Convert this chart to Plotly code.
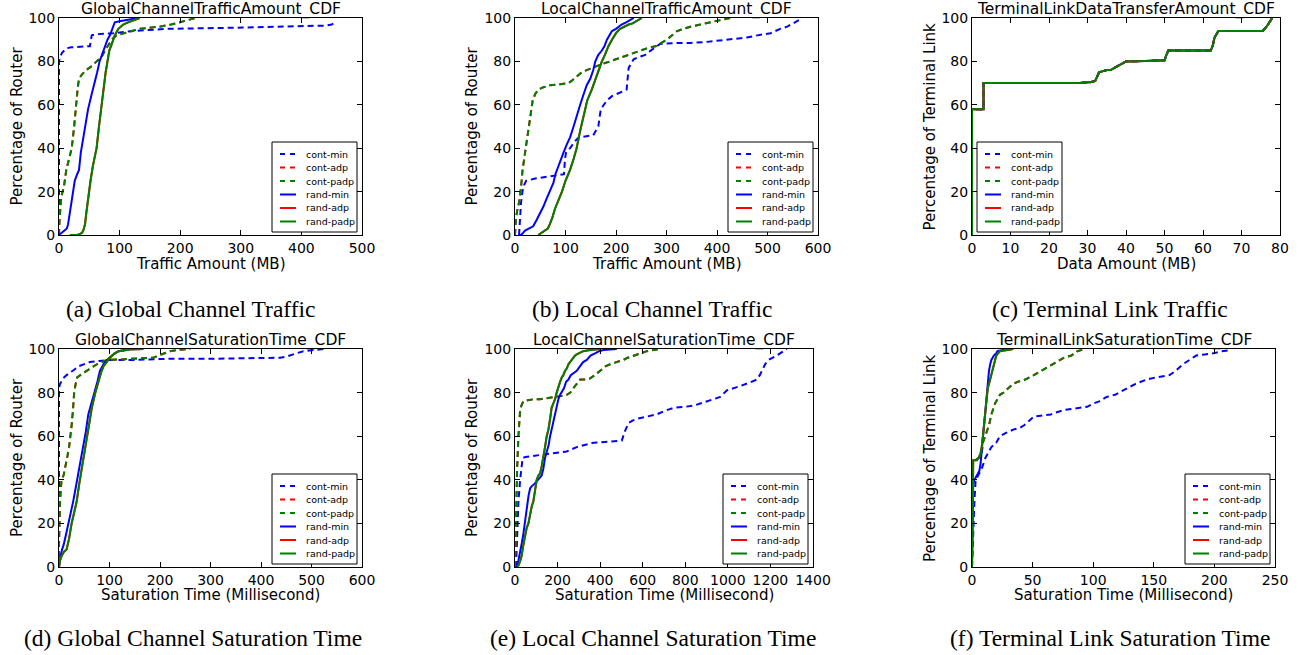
import plotly.graph_objects as go

W, H = 1300, 655

# ---------------- data ----------------
series_names = ["cont-min", "cont-adp", "cont-padp", "rand-min", "rand-adp", "rand-padp"]

# (a) Global channel traffic amount
a_cont_min_x = [0, 0, 2, 5, 12, 20, 51, 54, 60, 89, 122, 177, 287, 396, 440, 450, 457]
a_cont_min_y = [0, 80, 82, 84, 86, 86.5, 87, 92, 92.5, 93, 94, 95, 95.5, 96, 96.5, 97, 98]
a_cont_padp_x = [0, 1, 4, 8, 12, 17, 21, 25, 28, 31, 33, 38, 45, 55, 62, 70, 76, 82, 87, 95, 106, 120, 133, 150, 166, 185, 199, 215, 226]
a_cont_padp_y = [0, 8, 18, 22, 30, 35, 40, 50, 60, 68, 72, 74, 76, 78, 80, 82, 85, 88, 90, 92, 93, 94, 95, 95.5, 96, 97, 98, 99, 100]
a_rand_min_x = [0, 5, 10, 13, 15, 18, 20, 23, 26, 30, 33, 36, 40, 43, 48, 54, 59, 63, 67, 72, 76, 80, 84, 88, 92, 100, 111, 120, 130]
a_rand_min_y = [0, 1, 2, 3, 5, 10, 15, 20, 25, 28, 30, 38, 45, 50, 58, 65, 70, 75, 80, 84, 87, 90, 92, 95, 98, 98.5, 99, 99.5, 100]
a_rand_padp_x = [18, 30, 35, 38, 40, 43, 45, 48, 52, 56, 62, 66, 70, 74, 77, 80, 83, 87, 92, 98, 106, 114, 122, 133]
a_rand_padp_y = [0, 0, 0.5, 1, 2, 5, 10, 17, 25, 32, 40, 50, 60, 68, 75, 80, 85, 88, 92, 95, 97, 98, 99, 100]
a_cont_adp_x, a_cont_adp_y = a_cont_padp_x, a_cont_padp_y
a_rand_adp_x, a_rand_adp_y = a_rand_padp_x, a_rand_padp_y

# (b) Local channel traffic amount
b_cont_min_x = [8, 9, 12, 16, 22, 40, 69, 97, 99, 101, 109, 118, 126, 140, 155, 160, 165, 168, 170, 176, 182, 192, 202, 212, 221, 223, 225, 230, 235, 245, 258, 266, 274, 280, 287, 320, 347, 380, 426, 459, 480, 506, 525, 539, 562]
b_cont_min_y = [0, 5, 15, 22, 25, 26, 27, 28, 35, 38, 40, 43, 45, 45.5, 46, 48, 50, 55, 58, 60, 62, 64, 65, 66, 67, 72, 77, 79, 81, 82, 83, 84.5, 86, 87, 88, 88.5, 88.5, 89, 90, 91, 92, 93, 95, 96, 99]
b_cont_padp_x = [0, 2, 5, 8, 12, 15, 20, 24, 28, 32, 35, 40, 46, 55, 69, 90, 106, 112, 122, 132, 142, 152, 162, 175, 188, 200, 221, 240, 261, 278, 290, 301, 311, 321, 334, 347, 367, 387, 405, 426]
b_cont_padp_y = [0, 8, 12, 15, 22, 30, 38, 45, 52, 58, 62, 65, 67, 68, 69, 69.5, 70, 71, 73, 75, 76, 77, 78, 79, 80, 81, 83, 84.5, 86, 87, 88.5, 90, 92, 94, 95, 96, 97, 98, 99, 100]
b_rand_min_x = [8, 12, 16, 20, 28, 36, 43, 50, 56, 63, 70, 76, 80, 83, 90, 96, 103, 109, 116, 122, 129, 136, 142, 149, 155, 159, 165, 172, 177, 182, 187, 192, 200, 211, 220, 228, 235]
b_rand_min_y = [0, 0, 1, 2, 3, 4, 7, 10, 13, 17, 21, 24, 28, 30, 34, 38, 42, 45, 50, 55, 60, 65, 69, 72, 76, 80, 83, 85, 87, 90, 92, 94, 95, 97, 98, 99, 100]
b_rand_padp_x = [46, 52, 59, 65, 69, 74, 79, 86, 93, 100, 109, 116, 122, 129, 136, 143, 152, 158, 165, 172, 178, 185, 192, 200, 208, 216, 225, 233, 241, 246, 251]
b_rand_padp_y = [0, 1, 2, 3, 5, 8, 12, 16, 20, 25, 30, 35, 40, 48, 55, 62, 67, 71, 75, 80, 83, 87, 90, 93, 95, 96, 97, 97.5, 98.5, 99, 100]
b_cont_adp_x, b_cont_adp_y = b_cont_padp_x, b_cont_padp_y
b_rand_adp_x, b_rand_adp_y = b_rand_padp_x, b_rand_padp_y

# (c) Terminal link data transfer amount (all six routings coincide)
c_all_x = [0, 0, 3, 3, 10, 20, 28, 31, 32, 32.5, 33, 35, 36, 37, 38, 40, 45, 50, 50.5, 51, 55, 62, 62.5, 63, 64, 70, 75.5, 76.5, 77.5, 78]
c_all_y = [0, 58, 58, 70, 70, 70, 70, 70.5, 71, 73, 75, 76, 76, 77, 78, 80, 80.2, 80.5, 83, 85, 85, 85, 87, 91, 94, 94, 94, 96, 99, 100]
c_cont_min_x = c_cont_adp_x = c_cont_padp_x = c_all_x
c_rand_min_x = c_rand_adp_x = c_rand_padp_x = c_all_x
c_cont_min_y = c_cont_adp_y = c_cont_padp_y = c_all_y
c_rand_min_y = c_rand_adp_y = c_rand_padp_y = c_all_y

# (d) Global channel saturation time
d_cont_min_x = [0, 0, 2, 5, 10, 15, 22, 30, 38, 50, 61, 80, 101, 150, 213, 300, 412, 438, 450, 458, 470, 484, 500, 524]
d_cont_min_y = [0, 82, 84, 85, 87, 88, 89, 90.5, 92, 93, 94, 94.5, 95, 95, 95.5, 95.5, 96, 96, 96.5, 97, 98, 99, 99.5, 100]
d_cont_padp_x = [0, 0, 2, 5, 9, 12, 16, 20, 23, 25, 28, 30, 33, 36, 45, 55, 65, 75, 85, 95, 120, 147, 170, 187, 197, 207, 220, 233, 260]
d_cont_padp_y = [0, 10, 30, 40, 42, 45, 50, 55, 60, 65, 73, 80, 84, 87, 88.5, 90, 91.5, 93, 94, 95, 95.2, 95.5, 95.7, 96, 97, 98, 99, 99.5, 100]
d_rand_min_x = [0, 1, 3, 6, 9, 14, 19, 24, 28, 32, 36, 42, 48, 53, 58, 64, 71, 76, 81, 88, 95, 105, 118, 130, 141]
d_rand_min_y = [0, 3, 5, 8, 10, 15, 20, 25, 30, 35, 40, 48, 55, 62, 70, 75, 80, 85, 90, 93, 95, 97, 99, 99.5, 100]
d_rand_padp_x = [0, 2, 5, 10, 15, 20, 25, 30, 35, 40, 45, 50, 55, 60, 65, 72, 78, 83, 88, 95, 101, 110, 118, 140, 167]
d_rand_padp_y = [0, 3, 5, 7, 8, 13, 20, 25, 30, 38, 45, 52, 60, 67, 73, 80, 85, 89, 92, 94, 96, 98, 99, 99.8, 100]
d_cont_adp_x, d_cont_adp_y = d_cont_padp_x, d_cont_padp_y
d_rand_adp_x, d_rand_adp_y = d_rand_padp_x, d_rand_padp_y

# (e) Local channel saturation time
e_cont_min_x = [5, 8, 11, 16, 24, 30, 36, 50, 86, 125, 165, 200, 243, 290, 330, 368, 440, 502, 515, 533, 550, 572, 620, 666, 700, 745, 800, 839, 870, 901, 940, 964, 995, 1030, 1058, 1100, 1136, 1150, 1160, 1175, 1191, 1210, 1230, 1277]
e_cont_min_y = [0, 10, 20, 30, 40, 45, 50, 50.5, 51, 51.5, 52, 52.5, 53, 55, 56, 57, 57.5, 58, 62, 66, 67, 68, 69, 70, 71.5, 73, 73.5, 74, 75, 76, 77, 78, 81, 82, 83, 84.5, 86, 88, 90, 93, 95, 96, 97, 100]
e_cont_padp_x = [0, 3, 5, 10, 16, 20, 24, 30, 39, 60, 90, 118, 160, 196, 220, 243, 260, 274, 290, 306, 330, 353, 375, 400, 425, 447, 480, 509, 530, 556, 590, 619, 650, 682]
e_cont_padp_y = [0, 15, 30, 45, 60, 67, 72, 74, 76, 76.5, 77, 77, 77.5, 78, 78.5, 79, 80, 82, 84, 86, 86, 86.5, 88, 90, 92, 93, 94, 95, 96, 97, 98, 99, 99.5, 100]
e_rand_min_x = [5, 10, 16, 25, 32, 39, 46, 52, 58, 64, 71, 78, 90, 100, 110, 117, 125, 133, 141, 150, 158, 165, 172, 180, 188, 196, 204, 212, 219, 230, 240, 251, 262, 275, 290, 305, 320, 337, 355, 376, 395, 415, 450, 478]
e_rand_min_y = [0, 1, 3, 7, 11, 15, 20, 25, 30, 33, 36, 37, 38, 39, 40, 41, 42, 45, 50, 53, 56, 60, 63, 67, 70, 74, 77, 79, 80, 82, 85, 86, 88, 89, 90, 92, 94, 95, 97, 98, 99, 99.5, 99.8, 100]
e_rand_padp_x = [11, 18, 25, 31, 39, 47, 55, 63, 71, 79, 86, 94, 102, 110, 118, 125, 133, 141, 149, 157, 165, 172, 180, 188, 196, 204, 212, 220, 227, 235, 243, 251, 258, 266, 274, 282, 290, 298, 320, 353, 380, 400]
e_rand_padp_y = [0, 1, 3, 5, 10, 15, 18, 20, 25, 28, 30, 35, 40, 42, 43, 46, 50, 55, 60, 63, 68, 73, 75, 77, 80, 83, 85, 87, 88, 90, 91, 93, 94, 95, 96, 97, 97.5, 98, 99, 99.5, 99.8, 100]
e_cont_adp_x, e_cont_adp_y = e_cont_padp_x, e_cont_padp_y
e_rand_adp_x, e_rand_adp_y = e_rand_padp_x, e_rand_padp_y

# (f) Terminal link saturation time
f_cont_min_x = [0, 0.5, 1, 2, 3, 5, 8, 11, 14, 16, 20, 23, 28, 34, 40, 43, 47, 51, 58, 65, 70, 76, 82, 89, 95, 100, 105, 111, 118, 128, 135, 144, 152, 163, 168, 174, 180, 185, 192, 199, 206, 213]
f_cont_min_y = [0, 10, 20, 30, 40, 42, 45, 50, 53, 55, 57, 60, 61.5, 63, 64, 65, 67, 69, 69.5, 70, 71, 72, 72.5, 73, 73.5, 75, 76, 78, 79, 82, 84, 86, 87, 88, 90, 93, 95, 97, 97.5, 98, 99, 99.5]
f_cont_padp_x = [0, 0.5, 2, 4, 5.5, 7, 8, 9, 11, 12, 14, 16, 17, 19, 21, 23, 26, 30, 34, 38, 44, 51, 57, 63, 70, 76, 82, 87, 90, 92]
f_cont_padp_y = [0, 49, 49, 49, 50, 51, 52, 57, 60, 62, 65, 70, 72, 75, 77, 79, 80, 82, 84, 85, 86, 88, 90, 92, 94, 96, 97, 99, 99.5, 100]
f_rand_min_x = [0, 0.5, 1, 2, 4, 6, 7, 7.5, 8, 9, 10, 11, 12, 13, 14, 15, 16, 18, 20, 21, 25, 32]
f_rand_min_y = [0, 20, 38, 40, 42, 44, 47, 50, 55, 60, 65, 70, 77, 85, 90, 93, 95, 97, 98, 99, 99.5, 100]
f_rand_padp_x = [0, 0.5, 1, 3, 5.5, 7, 8, 9, 10, 11, 12, 13, 14.5, 16, 17, 18, 19, 20, 23, 28, 34]
f_rand_padp_y = [0, 30, 49, 49, 50, 52, 55, 60, 65, 70, 77, 82, 85, 88, 90, 92, 95, 97, 99, 99.5, 100]
f_cont_adp_x, f_cont_adp_y = f_cont_padp_x, f_cont_padp_y
f_rand_adp_x, f_rand_adp_y = f_rand_padp_x, f_rand_padp_y

titles = ["GlobalChannelTrafficAmount_CDF", "LocalChannelTrafficAmount_CDF",
          "TerminalLinkDataTransferAmount_CDF", "GlobalChannelSaturationTime_CDF",
          "LocalChannelSaturationTime_CDF", "TerminalLinkSaturationTime_CDF"]
xlabels = ["Traffic Amount (MB)", "Traffic Amount (MB)", "Data Amount (MB)",
           "Saturation Time (Millisecond)", "Saturation Time (Millisecond)",
           "Saturation Time (Millisecond)"]
ylabels = ["Percentage of Router", "Percentage of Router", "Percentage of Terminal Link",
           "Percentage of Router", "Percentage of Router", "Percentage of Terminal Link"]
captions = ["(a) Global Channel Traffic", "(b) Local Channel Traffic", "(c) Terminal Link Traffic",
            "(d) Global Channel Saturation Time", "(e) Local Channel Saturation Time",
            "(f) Terminal Link Saturation Time"]
x_max = [500, 600, 80, 600, 1400, 250]
x_dtick = [100, 100, 10, 100, 200, 50]
y_ticks = [0, 20, 40, 60, 80, 100]

keys = ["cont_min", "cont_adp", "cont_padp", "rand_min", "rand_adp", "rand_padp"]
g = globals()
panel_data = []
for p in "abcdef":
    panel_data.append({s: (g[f"{p}_{s}_x"], g[f"{p}_{s}_y"]) for s in keys})

# ---------------- layout geometry (pixels) ----------------
# plot areas: (left, right, top, bottom)
boxes = [(59, 362, 18, 235), (515, 818, 18, 235), (972, 1280, 18, 235),
         (59, 362, 349, 567), (515, 813, 349, 567), (972, 1275, 349, 567)]
ylabel_x = [17, 472, 930, 17, 472, 930]
xlabel_y = [264, 264, 264, 595, 595, 595]
caption_pos = [(191, 309), (652, 309), (1110, 309), (193, 638), (653, 638), (1110, 638)]
legend_left = [False, False, True, False, False, False]

def fx(p):
    return p / W

def fy(p):
    return 1 - p / H

DASH = "6px,4px"
styles = {
    "cont_min": dict(color="#0000ff", dash=DASH),
    "cont_adp": dict(color="#ff0000", dash=DASH),
    "cont_padp": dict(color="#008000", dash=DASH),
    "rand_min": dict(color="#0000ff", dash="solid"),
    "rand_adp": dict(color="#ff0000", dash="solid"),
    "rand_padp": dict(color="#008000", dash="solid"),
}

SANS = "DejaVu Sans"
fig = go.Figure()
annotations = []
shapes = []
layout = dict(
    width=W, height=H, margin=dict(l=0, r=0, t=0, b=0),
    paper_bgcolor="white", plot_bgcolor="white", showlegend=False,
    font=dict(family=SANS, color="black", size=14),
)

LEG_W, LEG_H = 85, 90
for i, (box, d) in enumerate(zip(boxes, panel_data)):
    n = i + 1
    xa = "x" if n == 1 else f"x{n}"
    ya = "y" if n == 1 else f"y{n}"
    for key, name in zip(keys, series_names):
        xs, ys = d[key]
        st = styles[key]
        fig.add_trace(go.Scatter(
            x=xs, y=ys, mode="lines", name=name, xaxis=xa, yaxis=ya,
            line=dict(color=st["color"], dash=st["dash"], width=2),
            hoverinfo="skip", showlegend=False,
        ))
    L, R, T, B = box
    common = dict(showline=True, linecolor="black", linewidth=1, mirror="ticks",
                  ticks="inside", ticklen=5, tickcolor="black", showgrid=False,
                  zeroline=False, automargin=False, tickfont=dict(size=14, family=SANS))
    layout["xaxis" if n == 1 else f"xaxis{n}"] = dict(
        domain=[fx(L), fx(R)], anchor=ya, range=[0, x_max[i]],
        tickmode="linear", tick0=0, dtick=x_dtick[i], **common)
    layout["yaxis" if n == 1 else f"yaxis{n}"] = dict(
        domain=[fy(B), fy(T)], anchor=xa, range=[0, 100],
        tickmode="array", tickvals=y_ticks, **common)

    # legend box (drawn as shapes + text)
    if legend_left[i]:
        lx0 = L + 5
    else:
        lx0 = R - 5 - LEG_W
    ly1 = B - 3
    ly0 = ly1 - LEG_H
    shapes.append(dict(type="rect", xref="paper", yref="paper",
                       x0=fx(lx0), x1=fx(lx0 + LEG_W), y0=fy(ly1), y1=fy(ly0),
                       line=dict(color="black", width=1), fillcolor="white", layer="above"))
    for k, (key, name) in enumerate(zip(keys, series_names)):
        yy = ly0 + 12 + k * 13.5
        st = styles[key]
        shapes.append(dict(type="line", xref="paper", yref="paper",
                           x0=fx(lx0 + 8), x1=fx(lx0 + 24), y0=fy(yy), y1=fy(yy),
                           line=dict(color=st["color"], width=2,
                                     dash="5px,5px" if st["dash"] != "solid" else "solid"),
                           layer="above"))
        annotations.append(dict(text=name, x=fx(lx0 + 32), y=fy(yy), xref="paper", yref="paper",
                                xanchor="left", yanchor="middle", showarrow=False,
                                font=dict(size=9.5, family=SANS)))

    # title
    annotations.append(dict(text=titles[i], x=fx((L + R) / 2), y=fy(T), xref="paper", yref="paper",
                            xanchor="center", yanchor="bottom", showarrow=False,
                            font=dict(size=15.5, family=SANS), yshift=-3))
    # axis labels
    annotations.append(dict(text=xlabels[i], x=fx((L + R) / 2), y=fy(xlabel_y[i]), xref="paper", yref="paper",
                            xanchor="center", yanchor="middle", showarrow=False,
                            font=dict(size=15, family=SANS)))
    annotations.append(dict(text=ylabels[i], x=fx(ylabel_x[i]), y=fy((T + B) / 2), xref="paper", yref="paper",
                            xanchor="center", yanchor="middle", showarrow=False, textangle=-90,
                            font=dict(size=15, family=SANS)))
    # caption
    cx, cy = caption_pos[i]
    annotations.append(dict(text=captions[i], x=fx(cx), y=fy(cy), xref="paper", yref="paper",
                            xanchor="center", yanchor="middle", showarrow=False,
                            font=dict(size=23.5, family="Liberation Serif")))

layout["annotations"] = annotations
layout["shapes"] = shapes
fig.update_layout(**layout)
fig.write_html("out.html", config={"displayModeBar": False},
               post_script="document.body.style.margin='0';document.body.style.overflow='hidden';")
